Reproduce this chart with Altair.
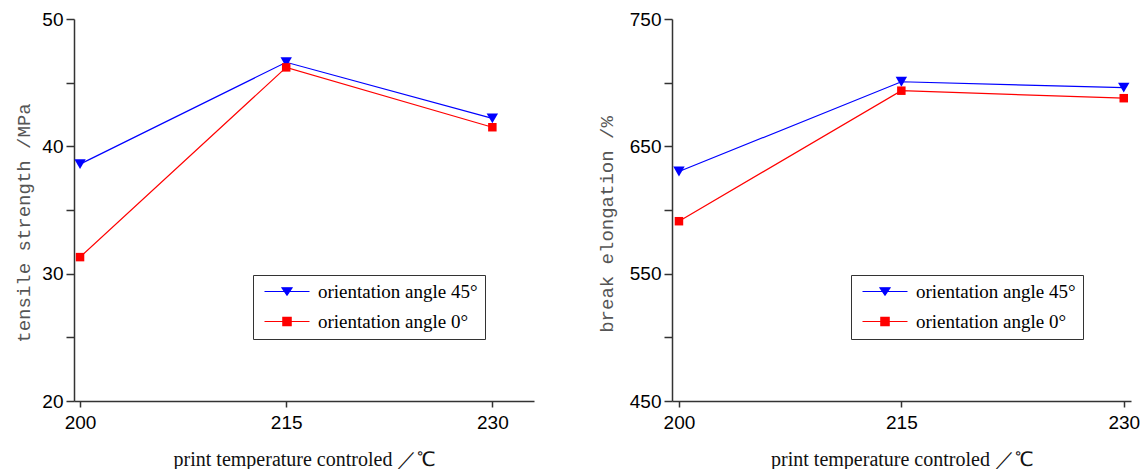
import altair as alt
import pandas as pd

# ---- data ----
temps = [200, 215, 230]
series = ["orientation angle 45°", "orientation angle 0°"]
tensile_45 = [38.6, 46.6, 42.2]
tensile_0 = [31.3, 46.2, 41.5]
elong_45 = [630.2, 700.7, 696.1]
elong_0 = [591.2, 693.7, 687.8]
x_ticks = [200, 215, 230]
tensile_ticks = [20, 25, 30, 35, 40, 45, 50]
elong_ticks = [450, 500, 550, 600, 650, 700, 750]
colors = ["#0000ff", "#ff0000"]

x_title = "print temperature controled ／℃"
tensile_title = "tensile strength /MPa"
elong_title = "break elongation /%"

# legend symbols: line with marker (custom SVG paths, unit coords)
TRI_LEG = "M-1,0H8M2.5,-0.73L4.5,-0.73L3.5,0.73Z"
SQ_LEG = "M-1,0H8M2.67,-0.83H4.33V0.83H2.67Z"


def make_df(v45, v0):
    rows = []
    for t, a, b in zip(temps, v45, v0):
        rows.append({"temp": t, "value": a, "series": series[0]})
        rows.append({"temp": t, "value": b, "series": series[1]})
    return pd.DataFrame(rows)


def panel(df, xdom, ydom, yticks, ytitle, label_expr, title_x, title_y, w):
    x = alt.X("temp:Q",
              scale=alt.Scale(domain=xdom, nice=False, zero=False),
              axis=alt.Axis(values=x_ticks, title=x_title, tickSize=6,
                            labelPadding=6, titleY=64,
                            titleBaseline="alphabetic", format="d"))
    y = alt.Y("value:Q",
              scale=alt.Scale(domain=ydom, nice=False, zero=False),
              axis=alt.Axis(values=yticks, labelExpr=label_expr, title=ytitle,
                            tickSize=8, labelPadding=3, titleX=title_x,
                            titleY=title_y, titleBaseline="middle"))
    color = alt.Color("series:N", scale=alt.Scale(domain=series, range=colors),
                      legend=None)
    base = alt.Chart(df)
    line = base.mark_line(strokeWidth=1.2).encode(x=x, y=y, color=color)
    tri = base.transform_filter(alt.datum.series == series[0]).mark_point(
        shape="triangle-down", filled=True, size=130, opacity=1
    ).encode(x=x, y=y, color=color)
    sq = base.transform_filter(alt.datum.series == series[1]).mark_point(
        shape="square", filled=True, size=72, opacity=1
    ).encode(x=x, y=y, color=color)

    leg = alt.Legend(title=None, orient="none", legendX=179, legendY=256,
                     strokeColor="#333", fillColor="white", padding=7,
                     labelFont="Liberation Serif", labelFontSize=19,
                     labelColor="black", labelLimit=400, labelOffset=39,
                     rowPadding=10, symbolSize=100, symbolStrokeWidth=1.2,
                     symbolOpacity=1)
    legend_layer = base.transform_filter(alt.datum.temp == 200).mark_point(
        size=100, strokeWidth=1.2
    ).encode(
        x=x, y=y,
        fill=alt.Fill("series:N", scale=alt.Scale(domain=series, range=colors), legend=leg),
        stroke=alt.Stroke("series:N", scale=alt.Scale(domain=series, range=colors), legend=leg),
        shape=alt.Shape("series:N", scale=alt.Scale(domain=series, range=[TRI_LEG, SQ_LEG]), legend=leg),
        opacity=alt.value(0),
    )
    return alt.layer(line, tri, sq, legend_layer).properties(width=w, height=382)


left = panel(make_df(tensile_45, tensile_0), [199.56, 233.03], [20, 50],
             tensile_ticks, tensile_title,
             "datum.value % 10 == 0 ? datum.label : ''", -51, 203.5, 460)
right = panel(make_df(elong_45, elong_0), [199.53, 230.49], [450, 750],
              elong_ticks, elong_title,
              "datum.value % 100 == 50 ? datum.label : ''", -66, 205, 459)

chart = alt.hconcat(left, right, spacing=63).resolve_scale(
    fill="independent", stroke="independent", shape="independent"
).properties(
    padding={"left": 6, "top": 2, "right": 0, "bottom": 0}
).configure_view(stroke=None).configure_axis(
    grid=False, domainColor="#333", domainWidth=1.5, tickColor="#333",
    tickWidth=1.5, labelFont="Liberation Sans", labelFontSize=19,
    labelColor="black", titleFontWeight="normal"
).configure_axisX(
    titleFont="Liberation Serif", titleFontSize=20, titleColor="#111"
).configure_axisY(
    titleFont="Liberation Mono", titleFontSize=19, titleColor="#555"
)

chart.save("out.html", embed_options={"renderer": "svg", "actions": False})
